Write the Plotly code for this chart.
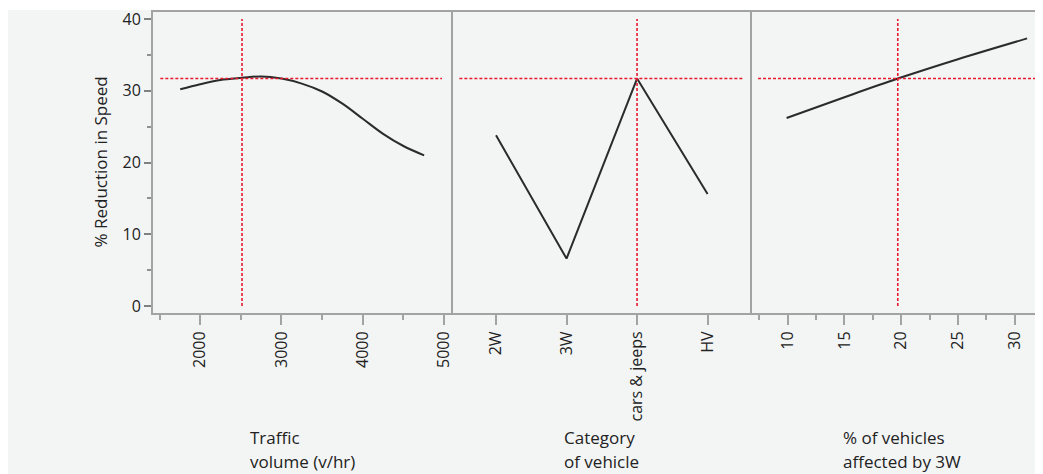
import plotly.graph_objects as go
from plotly.subplots import make_subplots

# ---- data ----
traffic_volume = [1755, 2000, 2250, 2515, 2750, 3000, 3250, 3500, 3750, 4000, 4250, 4500, 4755]
traffic_reduction = [30.2, 30.9, 31.5, 31.8, 32.0, 31.7, 31.0, 29.9, 28.2, 26.1, 24.0, 22.3, 21.0]

vehicle_categories = ["2W", "3W", "cars & jeeps", "HV"]
category_reduction = [23.8, 6.6, 31.7, 15.6]

pct_3w = [9.9, 15.0, 19.7, 25.0, 31.1]
pct_3w_reduction = [26.2, 29.1, 31.7, 34.4, 37.3]

current_y = 31.7
current_traffic = 2515
current_category = 2  # cars & jeeps
current_pct = 19.7

traffic_ticks = [2000, 3000, 4000, 5000]
pct_ticks = [10, 15, 20, 25, 30]
y_ticks = [0, 10, 20, 30, 40]

panel_titles = [["Traffic", "volume (v/hr)"], ["Category", "of vehicle"], ["% of vehicles", "affected by 3W"]]
y_title = "% Reduction in Speed"

# ---- layout constants (page coordinates; the page has an 8px body margin) ----
OFF = 8
W, H = 1043 - OFF, 474 - OFF
L, T = 153 - OFF, 12 - OFF
R = 0
B = H - (313 - OFF)
plot_w = W - L - R
plot_h = H - T - B
d1 = 300 / plot_w
d2 = 599 / plot_w

FONT = "Open Sans"
TXT = "#222222"
FRAME = "#a3a3a3"
RED = "#e8192c"
CURVE = "#2b2b2b"
BG = "#f3f5f5"

fig = make_subplots(rows=1, cols=3, horizontal_spacing=0, shared_yaxes=False)

# curves
fig.add_trace(go.Scatter(x=traffic_volume, y=traffic_reduction, mode="lines",
                         line=dict(color=CURVE, width=2, shape="spline"), hoverinfo="skip"), 1, 1)
fig.add_trace(go.Scatter(x=list(range(len(vehicle_categories))), y=category_reduction, mode="lines",
                         line=dict(color=CURVE, width=2), hoverinfo="skip"), 1, 2)
fig.add_trace(go.Scatter(x=pct_3w, y=pct_3w_reduction, mode="lines",
                         line=dict(color=CURVE, width=2, shape="spline"), hoverinfo="skip"), 1, 3)

# red crosshairs
dash = dict(color=RED, width=1.6, dash="3px,2px")
hspans = [(1510, 4975), (-0.52, 3.5), (7.38, 32.6)]
vlines = [current_traffic, current_category, current_pct]
for i in range(3):
    fig.add_trace(go.Scatter(x=list(hspans[i]), y=[current_y, current_y], mode="lines",
                             line=dash, hoverinfo="skip"), 1, i + 1)
    fig.add_trace(go.Scatter(x=[vlines[i], vlines[i]], y=[0, 40], mode="lines",
                             line=dash, hoverinfo="skip"), 1, i + 1)

xcommon = dict(showline=True, linecolor=FRAME, linewidth=2, mirror=True, ticks="outside",
               ticklen=10, tickwidth=1.5, tickcolor=FRAME, tickangle=-90, showgrid=False,
               zeroline=False, tickfont=dict(family=FONT, size=16, color=TXT),
               ticklabeloverflow="allow")

fig.update_xaxes(**xcommon, range=[1420, 5110], tickmode="array", tickvals=traffic_ticks,
                 ticktext=[str(v) for v in traffic_ticks],
                 minor=dict(tickmode="array", tickvals=[1500, 2500, 3500, 4500], ticklen=5,
                            tickcolor=FRAME, tickwidth=1.5, ticks="outside"),
                 domain=[0, d1], row=1, col=1)
fig.update_xaxes(**xcommon, range=[-0.61, 3.63], tickmode="array",
                 tickvals=list(range(len(vehicle_categories))), ticktext=vehicle_categories,
                 domain=[d1, d2], row=1, col=2)
fig.update_xaxes(**xcommon, range=[6.85, 32.5], tickmode="array", tickvals=pct_ticks,
                 ticktext=[str(v) for v in pct_ticks],
                 minor=dict(tickmode="array", tickvals=[7.5, 12.5, 17.5, 22.5, 27.5, 32.5], ticklen=5,
                            tickcolor=FRAME, tickwidth=1.5, ticks="outside"),
                 domain=[d2, 1], row=1, col=3)

ycommon = dict(range=[-0.98, 40.98], showline=True, linecolor=FRAME, linewidth=2,
               showgrid=False, zeroline=False)
fig.update_yaxes(**ycommon, ticks="outside", ticklen=7, tickwidth=1.5, tickcolor="#808080",
                 tickmode="array", tickvals=y_ticks, ticklabeloverflow="allow",
                 tickfont=dict(family=FONT, size=16, color=TXT),
                 minor=dict(tickmode="array", tickvals=[5, 15, 25, 35], ticklen=4,
                            tickcolor="#909090", tickwidth=1.5, ticks="outside"),
                 row=1, col=1)
fig.update_yaxes(**ycommon, showticklabels=False, ticks="", row=1, col=2)
fig.update_yaxes(**ycommon, showticklabels=False, ticks="", row=1, col=3)

def px_to_paper_x(px):
    return (px - OFF - L) / plot_w

def px_to_paper_y(py):
    return (T + plot_h - (py - OFF)) / plot_h

annotations = [dict(text=y_title, textangle=-90, x=px_to_paper_x(100), y=px_to_paper_y(162.5),
                    xref="paper", yref="paper", showarrow=False,
                    font=dict(family=FONT, size=17, color=TXT), xanchor="center", yanchor="middle")]
title_x = [248, 562, 841]
for (l1, l2), tx in zip(panel_titles, title_x):
    annotations.append(dict(text=l1, x=px_to_paper_x(tx), y=px_to_paper_y(437.5), xref="paper", yref="paper",
                            showarrow=False, xanchor="left", yanchor="middle",
                            font=dict(family=FONT, size=17, color=TXT)))
    annotations.append(dict(text=l2, x=px_to_paper_x(tx), y=px_to_paper_y(461), xref="paper", yref="paper",
                            showarrow=False, xanchor="left", yanchor="middle",
                            font=dict(family=FONT, size=17, color=TXT)))

fig.update_layout(
    width=W, height=H, margin=dict(l=L, r=R, t=T, b=B, pad=0),
    paper_bgcolor="white", plot_bgcolor="white", showlegend=False,
    annotations=annotations,
    shapes=[dict(type="rect", xref="paper", yref="paper", layer="below",
                 x0=px_to_paper_x(0), x1=1.02, y0=px_to_paper_y(480), y1=px_to_paper_y(10),
                 fillcolor=BG, line=dict(width=0))],
)

fig.write_html("out.html")
